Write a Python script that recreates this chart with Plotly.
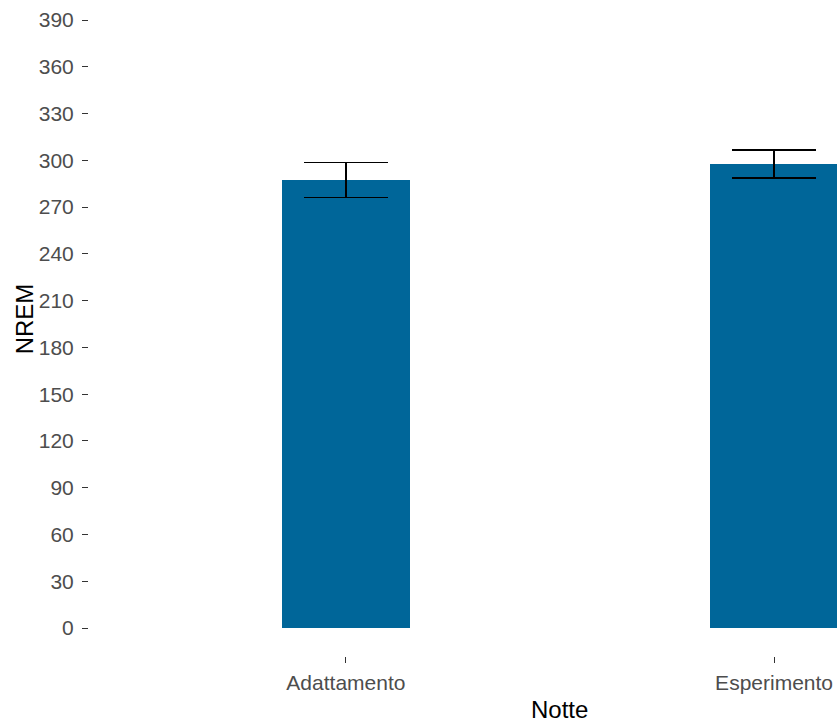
import plotly.graph_objects as go

# Mean NREM minutes per night with standard error
nights = ["Adattamento", "Esperimento"]
nrem_mean = [287.4, 297.5]
nrem_se = [11.3, 9.0]
y_ticks = list(range(0, 391, 30))

W, H = 837, 722
fig = go.Figure()
fig.add_trace(go.Bar(
    x=list(range(len(nights))),
    y=nrem_mean,
    width=0.3,
    marker=dict(color="#006699", line=dict(width=0)),
    error_y=dict(type="data", array=nrem_se, visible=True,
                 color="black", thickness=1.5, width=42),
    showlegend=False,
))

fig.update_layout(
    width=W, height=H,
    margin=dict(l=89, r=0, t=4, b=66),
    paper_bgcolor="white", plot_bgcolor="white",
    font=dict(family="Arial, Liberation Sans, sans-serif"),
    bargap=0,
)
fig.update_xaxes(
    range=[-0.6, 1.147],
    tickvals=list(range(len(nights))), ticktext=nights,
    ticks="outside", ticklen=6, tickcolor="#333333", tickwidth=1,
    tickfont=dict(size=21, color="#4d4d4d"),
    ticklabelstandoff=2,
    showgrid=False, zeroline=False, showline=False,
)
fig.update_yaxes(
    range=[-17.96, 400.26],
    tickvals=y_ticks,
    ticks="outside", ticklen=6, tickcolor="#333333", tickwidth=1,
    tickfont=dict(size=21, color="#4d4d4d"),
    ticklabelstandoff=4,
    showgrid=False, zeroline=False, showline=False,
)

# Axis titles, centred on the full panel
fig.add_annotation(text="Notte", xref="x", x=0.5, yref="paper", y=0,
                   yanchor="middle", yshift=-53, showarrow=False,
                   font=dict(size=24, color="black"))
fig.add_annotation(text="NREM", xref="paper", x=0, xanchor="center",
                   xshift=-65, yref="y", y=198, yanchor="middle",
                   textangle=-90, showarrow=False,
                   font=dict(size=24, color="black"))

fig.write_html("out.html")
